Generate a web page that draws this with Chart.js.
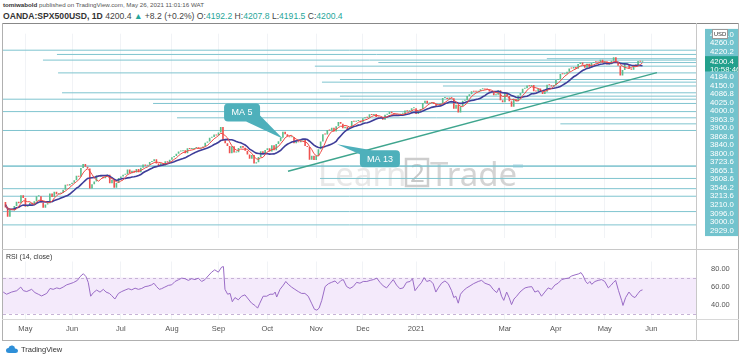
<!DOCTYPE html>
<html><head><meta charset="utf-8">
<script src="https://cdn.jsdelivr.net/npm/chart.js@4.4.0/dist/chart.umd.min.js"></script>
<style>
html,body{margin:0;padding:0;background:#fff;width:740px;height:357px;overflow:hidden;font-family:"Liberation Sans",Arial,sans-serif;}
#hdr1{position:absolute;left:3px;top:1px;font-size:6.2px;color:#555;white-space:nowrap;}
#hdr2{position:absolute;left:3px;top:11px;font-size:8.6px;color:#444;white-space:nowrap;}
.g{color:#26a69a}
canvas{position:absolute;left:0}
#cA{top:23px}
#cB{top:250px}
.ln{position:absolute;background:#b0b0b0}
#rsiLbl{position:absolute;left:6px;top:253px;font-size:7px;color:#333;white-space:nowrap;}
#foot{position:absolute;left:6px;top:345px;font-size:7.5px;color:#333;white-space:nowrap;display:flex;align-items:center;gap:3px}
</style></head>
<body>
<div id="hdr1"><b style="color:#333">tomiwabold</b> published on TradingView.com, May 26, 2021 11:01:16 WAT</div>
<div id="hdr2"><b style="color:#333;font-weight:600">OANDA:SPX500USD, 1D</b> 4200.4 <span class="g">▲</span> +8.2 (+0.2%) O:<span class="g">4192.2</span> H:<span class="g">4207.8</span> L:<span class="g">4191.5</span> C:<span class="g">4200.4</span></div>
<canvas id="cA" width="740" height="226"></canvas>
<canvas id="cB" width="740" height="90"></canvas>
<div class="ln" style="left:2px;top:23px;width:737px;height:1px;background:#888"></div>
<div class="ln" style="left:2px;top:23px;width:1px;height:318px"></div>
<div class="ln" style="left:738px;top:23px;width:1px;height:318px"></div>
<div class="ln" style="left:2px;top:340px;width:737px;height:1px"></div>
<div class="ln" style="left:696px;top:23px;width:1px;height:318px;background:#c8c8c8"></div>
<div class="ln" style="left:2px;top:249px;width:737px;height:1px;background:#c8c8c8"></div>
<div class="ln" style="left:2px;top:319px;width:737px;height:1px;background:#d8d8d8"></div>
<div id="rsiLbl">RSI (14, close)</div>
<div id="foot"><svg width="12" height="9" viewBox="0 0 12 9"><path d="M3 8 Q0 8 0 5.5 Q0 3 2.5 3 Q3 0 6.5 0.5 Q9 1 9 3.5 Q12 3.5 12 6 Q12 8 9.5 8 Z" fill="#2e8fd8"/></svg><span>TradingView</span></div>
<script>
// ---------------- DATA ----------------
// bar index 0 = Mon 20 Apr 2020 (one bar per weekday); closes start at index -1 (Fri 17 Apr 2020)
const firstIndex = -1;
const closes = [2875,
 2823,2737,2799,2797,2837, 2878,2863,2939,2912,2830, 2842,2868,2848,2881,2929, 2930,2870,2820,2852,2863,
 2954,2922,2971,2948,2955, 2960,2991,3036,3029,3044, 3055,3080,3122,3112,3193, 3232,3207,3190,3002,3041,
 3067,3124,3113,3115,3097, 3117,3131,3050,3084,3009, 3053,3100,3115,3130,3135, 3179,3145,3169,3152,3185,
 3155,3197,3226,3215,3224, 3251,3257,3276,3236,3215, 3239,3218,3258,3246,3271, 3294,3306,3327,3349,3351,
 3360,3333,3380,3373,3373, 3381,3389,3374,3385,3397, 3431,3443,3478,3484,3508, 3500,3527,3580,3455,3427,
 3400,3332,3399,3339,3341, 3383,3401,3385,3357,3320, 3281,3315,3237,3247,3298, 3351,3335,3363,3380,3348,
 3408,3361,3419,3446,3477, 3534,3512,3489,3483,3484, 3427,3443,3435,3453,3465, 3401,3391,3271,3310,3270,
 3310,3370,3443,3510,3509, 3550,3545,3572,3537,3585, 3627,3610,3568,3582,3558, 3578,3636,3629,3635,3638,
 3622,3662,3669,3666,3699, 3692,3702,3672,3668,3663, 3647,3694,3701,3722,3709, 3695,3687,3690,3703,3703,
 3735,3727,3732,3756,3756, 3701,3727,3748,3804,3825, 3799,3801,3810,3795,3768, 3775,3799,3852,3853,3841,
 3855,3849,3750,3787,3714, 3774,3826,3830,3871,3887, 3915,3911,3910,3916,3934, 3940,3932,3931,3913,3906,
 3876,3881,3925,3829,3811, 3901,3870,3820,3768,3841, 3821,3875,3898,3939,3943, 3969,3962,3974,3915,3913,
 3940,3910,3889,3909,3975, 3971,3959,3973,4020,4030, 4077,4074,4080,4097,4129, 4128,4142,4125,4170,4185,
 4163,4135,4173,4135,4180, 4188,4187,4184,4211,4181, 4193,4165,4168,4202,4233, 4189,4153,4063,4113,4174,
 4164,4128,4116,4160,4156, 4198,4192,4200.4];

// RSI(14, close): bar index and value
const rsiIdx = [-1.0,0.5,2.8,5.1,6.9,8.1,9.6,11.8,13.3,14.8,16.3,18.6,20.1,21.5,23.1,24.5,26.0,27.6,29.1,30.6,32.4,33.6,35.1,36.3,37.3,38.4,39.6,41.1,42.6,44.1,45.3,46.8,47.8,49.3,50.9,52.4,53.9,55.4,56.9,58.4,59.9,61.4,62.9,64.3,65.8,66.9,68.1,69.3,70.3,71.8,73.4,74.9,
 76.4,77.9,79.4,80.9,82.4,83.9,85.4,86.9,88.4,89.9,91.3,92.9,94.3,95.9,97.4,98.2,98.9,100.1,101.2,102.2,103.4,104.9,106.4,107.9,109.4,110.9,112.4,113.6,114.6,116.1,117.7,119.2,120.7,121.5,122.2,123.7,125.2,126.3,127.4,128.9,130.4,131.9,133.4,134.9,136.4,137.9,139.2,140.3,141.3,142.5,144.0,145.5,147.0,148.5,149.7,151.2,152.2,153.7,155.2,156.7,
 158.2,159.7,161.2,162.8,164.3,165.8,167.3,168.7,170.2,171.7,173.2,174.7,176.2,177.7,179.2,180.7,182.3,183.4,184.5,185.9,187.5,188.6,189.8,191.3,192.7,193.9,195.0,196.5,198.0,199.5,201.0,202.0,202.9,204.0,205.0,206.3,207.8,209.3,210.8,213.0,214.5,216.0,218.3,219.7,221.3,222.4,223.5,224.5,225.8,226.9,228.0,229.1,230.3,231.8,233.2,
 234.1,235.5,237.1,238.5,240.0,241.5,243.0,244.5,246.0,247.5,249.0,250.6,252.1,253.6,255.1,256.6,258.1,259.3,260.3,261.4,262.3,263.3,264.1,265.6,267.0,268.6,270.0,271.6,272.9,273.9,274.9,276.2,277.6,278.2,279.4,280.9,282.4,283.6,285.0,286.0,287.0];
const rsiVal = [54,51.6,54,55.5,59.5,55.5,54.6,57,53.4,51.6,49.7,52.5,58,57,58.6,57.7,59.5,62,63.2,64.5,66.9,71,74.3,71,64.7,49.4,53.3,56.2,53.9,57,54,52.5,50.3,46.3,52.5,54.6,56.2,57.7,56.5,58.3,57,58,60,60.6,61.9,63.7,60,57,57.7,59.5,61.4,62,
 65.7,67.5,69.4,68.8,66.9,68.8,67.8,69.4,65.7,67.8,71.8,76,78.6,76,81.6,82.2,57,51.6,52.5,43.3,47.9,45.4,49.4,50.9,46.3,41.7,39.2,36.2,41.7,49.4,49.4,51.6,51.6,54,48.5,57,61.7,65.7,62.6,59.5,57,54.6,52.5,52.5,49.4,41.7,35,34,36.2,44.8,60,63.2,64.8,66.3,63.2,66.9,67.8,60.1,58,60.1,
 64.7,63.8,65.7,65.7,66.9,67.8,69.4,64.8,60.8,58.6,63.2,67.8,61.7,57.7,58.6,64.8,65.7,68.8,55.5,60,64.8,70,65.7,66.9,63.2,54,58.6,63.8,66.3,63.2,55.5,47.9,49.4,41.7,51.6,55.5,58.6,60.8,63.2,65.7,66.9,63.8,61.7,57,53.4,58.6,49.4,44.8,54,47.9,40.1,46.3,49.4,54,57,
 58.6,59.5,60,54,55.5,49.4,54,58.6,57,61.7,63.8,67.8,68.8,69.4,71.8,73,74,75.5,71.8,65.7,63.2,65.7,62.6,65.7,66.9,67.8,65.7,58.6,61.7,64.7,66.9,55.5,44.8,39.2,47.9,54,49.4,47.9,52.5,55.5,56.4];

// horizontal price levels drawn on the chart (price, first bar index; null = from left edge)
const levelPrices = [4300,4260,4220.2,4207,4184,4150,4086.8,4025,4000,3963.9,3900,3868.6,3840,3800,3723.6,3665.1,3608.6,3546.2,3213.6,3210,3096,3000,2929,2785,2660];
const levelStarts = [null,23.2,243.9,16.9,168,139.4,23.7,150.7,142.6,197.1,25.5,150.7,null,66.5,null,77.3,250,null,null,null,141.7,null,null,null,null];
// labels in the price axis column (stacked slots)
const axisSlots  = [0,1,2,3.2,4.2,5,6,7,8,9,10,11,12,13,14,15,16,17,18,19,20,21,22,23];
const axisLabels = ["4300.0","4260.0","4220.2","4200.4","10:58:46","4184.0","4150.0","4086.8","4025.0","4000.0","3963.9","3900.0","3868.6","3840.0","3800.0","3723.6","3665.1","3608.6","3546.2","3213.6","3210.0","3096.0","3000.0","2929.0"];
// trend line (bar index, price)
const trendIdx = [127.3,293.5];
const trendPrice = [3163,4089.5];
// time axis
const monthTickIdx = [9,30,52,75,96,118,140,161,185,225,248,270,291];
const monthTickLabels = ["May","Jun","Jul","Aug","Sep","Oct","Nov","Dec","2021","Mar","Apr","May","Jun"];
const rsiTicks = [80,60,40];
// callouts (text, box centre bar/price, tip bar/price)
const calloutText = ["MA 5","MA 13"];
const calloutBox = [[106.6,3715],[168.7,3282]];
const calloutTip = [[125,3469],[149.4,3418]];

// ---------------- CHARTS ----------------
Chart.defaults.font.family = "'Liberation Sans', Arial, sans-serif";
const X_MIN = -1.1, X_MAX = 311.1;
const UP = '#5cbf8d', DOWN = '#ef5350';

const candles = closes.slice(1).map((c,k)=>({x:k+firstIndex+1, y:[closes[k], c]}));
function sma(n){
  const out=[];
  for(let k=1;k<closes.length;k++){
    const s=Math.max(0,k-n+1); let sum=0;
    for(let j=s;j<=k;j++) sum+=closes[j];
    out.push({x:k+firstIndex, y:sum/(k-s+1)});
  }
  return out;
}
const levelSets = levelPrices.map((p,k)=>({
  type:'line', data:[{x:levelStarts[k]===null?X_MIN:levelStarts[k], y:p},{x:X_MAX,y:p}],
  borderColor:'#7fc4cf', borderWidth:1, pointRadius:0, order:20, yAxisID:'y'
}));

const xGridA = {
  type:'linear', min:X_MIN, max:X_MAX, offset:false,
  afterBuildTicks(s){ s.ticks = monthTickIdx.map(v=>({value:v})); },
  ticks:{display:false}, grid:{color:'#f1f3f6', drawTicks:false, offset:false}, border:{display:false},
  afterFit(s){ s.height = 0; }
};

const overlayA = {
  id:'overlayA',
  beforeDatasetsDraw(chart){
    const ctx = chart.ctx; ctx.save();
    ctx.font = '33px "Noto Sans", sans-serif';
    ctx.textBaseline = 'alphabetic';
    ctx.fillStyle = '#e8e8e8';
    ctx.fillText('Learn', 318, 163);
    ctx.strokeStyle = '#cdcdcd'; ctx.lineWidth = 2.5;
    ctx.strokeRect(406, 136, 22, 27);
    ctx.fillStyle = '#c9c9c9';
    ctx.font = '26px "Noto Sans", sans-serif';
    ctx.fillText('2', 410, 159);
    ctx.font = '33px "Noto Sans", sans-serif';
    ctx.fillStyle = '#d4d4d4';
    ctx.fillText('Trade', 430, 163);
    ctx.fillStyle = '#d5e9f1';
    ctx.fillRect(513, 141, 10, 4);
    ctx.restore();
  },
  afterDatasetsDraw(chart){
    const ctx = chart.ctx, xs = chart.scales.x, ys = chart.scales.y;
    ctx.save();
    calloutText.forEach((label,k)=>{
      const cx = xs.getPixelForValue(calloutBox[k][0]), cy = ys.getPixelForValue(calloutBox[k][1]);
      const tx = xs.getPixelForValue(calloutTip[k][0]), ty = ys.getPixelForValue(calloutTip[k][1]);
      const w = k===0?36:40, h = k===0?18:17;
      const l = cx-w/2, tp = cy-h/2;
      ctx.fillStyle = '#4eb0bb';
      ctx.beginPath();
      if(k===0){ ctx.moveTo(l+w-14,tp+h); ctx.lineTo(tx,ty); ctx.lineTo(l+w,tp+h-6); }
      else { ctx.moveTo(l,tp+4); ctx.lineTo(tx,ty); ctx.lineTo(l+12,tp); }
      ctx.closePath(); ctx.fill();
      ctx.beginPath(); ctx.roundRect(l,tp,w,h,4); ctx.fill();
      ctx.fillStyle = '#ffffff';
      ctx.font = '9px "Liberation Sans", Arial, sans-serif';
      ctx.textAlign = 'center'; ctx.textBaseline = 'middle';
      ctx.fillText(label, cx, cy+0.5);
    });
    ctx.restore();
  },
  afterDraw(chart){
    const ctx = chart.ctx; ctx.save();
    ctx.fillStyle = '#fff'; ctx.strokeStyle = '#9a9a9a'; ctx.lineWidth = 1;
    ctx.fillRect(712.5,6.5,15,9); ctx.strokeRect(712.5,6.5,15,9);
    ctx.fillStyle = '#333'; ctx.font = '6px "Liberation Sans", Arial, sans-serif';
    ctx.textAlign = 'center'; ctx.textBaseline = 'middle';
    ctx.fillText('USD', 720, 11.2);
    ctx.restore();
  }
};

new Chart(document.getElementById('cA'), {
  data:{ datasets:[
    {type:'bar', data:candles, yAxisID:'y', order:5, barPercentage:0.75, categoryPercentage:1, minBarLength:1,
     backgroundColor:c=> (c.raw && c.raw.y[1]>=c.raw.y[0]) ? UP : DOWN},
    {type:'line', data:sma(13), yAxisID:'y', borderColor:'#3e3d99', borderWidth:1.6, pointRadius:0, order:2},
    {type:'line', data:sma(5), yAxisID:'y', borderColor:'#ee4a45', borderWidth:1, pointRadius:0, order:1},
    {type:'line', data:trendIdx.map((v,k)=>({x:v,y:trendPrice[k]})), yAxisID:'y', borderColor:'#3fa58e', borderWidth:1.5, pointRadius:0, order:10},
    ...levelSets
  ]},
  options:{
    responsive:false, animation:false, devicePixelRatio:1, events:[],
    layout:{padding:{left:3,right:2,top:0,bottom:0}},
    plugins:{legend:{display:false}, tooltip:{enabled:false}},
    scales:{
      x: xGridA,
      y:{type:'linear', display:false, min:2534, max:4455},
      yl:{type:'linear', position:'right', reverse:true, min:-0.106, max:23.93,
        afterBuildTicks(s){ s.ticks = axisSlots.map(v=>({value:v})); },
        afterFit(s){ s.width = 42; },
        grid:{display:false}, border:{display:false},
        ticks:{autoSkip:false, padding:6, color:'#ffffff', font:{size:7.8},
          callback:(v,i)=>axisLabels[i],
          showLabelBackdrop:true,
          backdropColor:c=> (c.index===3||c.index===4) ? '#22a08c' : '#72c3cd',
          backdropPadding:{top:1,bottom:1,left:5,right:6}}
      }
    }
  },
  plugins:[overlayA]
});

const bandPlugin = {
  id:'band',
  beforeDatasetsDraw(chart){
    const {ctx, chartArea:a} = chart, ys = chart.scales.y;
    const y70 = ys.getPixelForValue(70), y30 = ys.getPixelForValue(30);
    ctx.save();
    ctx.fillStyle = '#f4eafb';
    ctx.fillRect(a.left, y70, a.right-a.left, y30-y70);
    ctx.strokeStyle = '#c6b2d6'; ctx.setLineDash([3,3]); ctx.lineWidth = 1;
    [y70,y30].forEach(y=>{ ctx.beginPath(); ctx.moveTo(a.left,Math.round(y)+0.5); ctx.lineTo(a.right,Math.round(y)+0.5); ctx.stroke(); });
    ctx.restore();
  }
};

new Chart(document.getElementById('cB'), {
  type:'line',
  data:{ datasets:[{data:rsiIdx.map((v,k)=>({x:v,y:rsiVal[k]})), borderColor:'#9a6cc6', borderWidth:1, pointRadius:0}]},
  options:{
    responsive:false, animation:false, devicePixelRatio:1, events:[],
    layout:{padding:{left:3,right:2,top:0,bottom:0}},
    plugins:{legend:{display:false}, tooltip:{enabled:false}},
    scales:{
      x:{type:'linear', min:X_MIN, max:X_MAX, offset:false,
        afterBuildTicks(s){ s.ticks = monthTickIdx.map(v=>({value:v})); },
        afterFit(s){ s.height = 21; },
        ticks:{autoSkip:false, maxRotation:0, padding:5, color:'#555', font:{size:7.5},
          callback:(v,i)=>monthTickLabels[i]},
        grid:{color:'#f1f3f6', drawTicks:false}, border:{display:false}},
      y:{type:'linear', position:'right', min:24.2, max:87.8,
        afterBuildTicks(s){ s.ticks = rsiTicks.map(v=>({value:v})); },
        afterFit(s){ s.width = 42; },
        ticks:{padding:7, color:'#555', font:{size:7.5}, callback:v=>v.toFixed(2)},
        grid:{display:false}, border:{display:false}}
    }
  },
  plugins:[bandPlugin]
});
</script>
</body></html>
